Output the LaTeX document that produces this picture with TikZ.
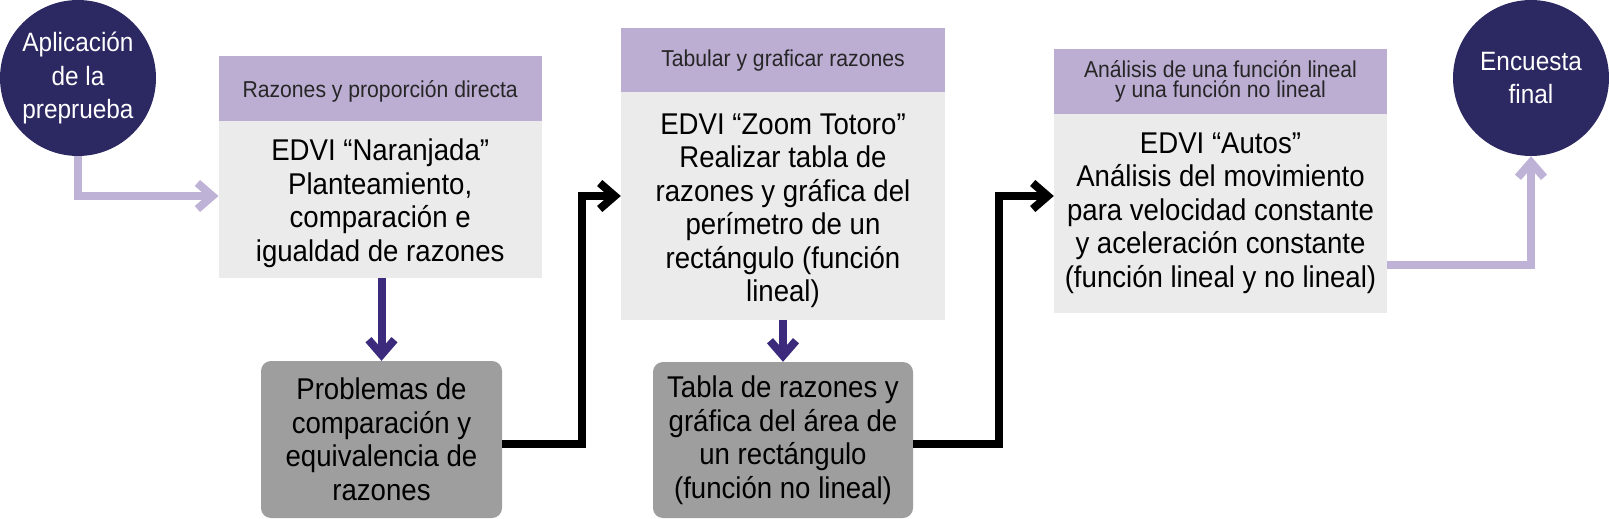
\documentclass[tikz,border=0pt]{standalone}
\usepackage{fontspec}
\setmainfont{Liberation Sans}[FakeStretch=0.92]
\usetikzlibrary{arrows.meta}
\definecolor{navy}{HTML}{2C2862}
\definecolor{hdrlav}{HTML}{BCADD3}
\definecolor{bodygray}{HTML}{EBEBEB}
\definecolor{boxgray}{HTML}{9E9E9E}
\definecolor{purarr}{HTML}{3C2B7C}
\definecolor{lavarr}{HTML}{BFB2D7}
\tikzset{
  hdr/.style={fill=hdrlav, inner sep=0pt},
  hdrtext/.style={inner sep=0pt, align=center, text=black!85,
    font=\fontsize{23}{20.5}\selectfont},
  bodybox/.style={fill=bodygray, inner sep=0pt},
  bodytext/.style={inner sep=0pt, align=center,
    font=\fontsize{30}{33.5}\selectfont},
  graybox/.style={fill=boxgray, rounded corners=10pt, inner sep=0pt, align=center,
    font=\fontsize{30}{33.5}\selectfont},
  circ/.style={circle, fill=navy, text=white, inner sep=0pt, minimum size=156pt,
    align=center, font=\fontsize{26.5}{33.3}\selectfont},
  tipbarb/.style={-{Straight Barb[length=15pt,width=26pt]}},
  lavline/.style={draw=lavarr, line width=8pt, tipbarb},
  purline/.style={draw=purarr, line width=8pt, tipbarb},
  blkline/.style={draw=black, line width=8pt, tipbarb},
}
\begin{document}
\begin{tikzpicture}[x=1pt,y=-1pt]
\useasboundingbox (0,0) rectangle (1609,519);
% circles
\node[circ] (start) at (78,78) {Aplicación\\de la\\preprueba};
\node[circ] (final) at (1531,78) {Encuesta\\final};
% box 1
\node[hdr, minimum width=323pt, minimum height=64.6pt] (h1) at (380.2,88.7) {};
\node[hdrtext] (h1t) at (380.2,91.7) {Razones y proporción directa};
\node[bodybox, minimum width=323pt, minimum height=157pt] (b1) at (380.2,199.5) {};
\node[bodytext] (b1t) at (380.2,203)
  {EDVI “Naranjada”\\Planteamiento,\\comparación e\\igualdad de razones};
% box 2
\node[hdr, minimum width=324pt, minimum height=64pt] (h2) at (783,60) {};
\node[hdrtext] (h2t) at (783,60.5) {Tabular y graficar razones};
\node[bodybox, minimum width=324pt, minimum height=228pt] (b2) at (783,206) {};
\node[bodytext] (b2t) at (783,211)
  {EDVI “Zoom Totoro”\\Realizar tabla de\\razones y gráfica del\\perímetro de un\\rectángulo (función\\lineal)};
% box 3
\node[hdr, minimum width=333pt, minimum height=65pt] (h3) at (1220.5,81.5) {};
\node[hdrtext] (h3t) at (1220.5,81.5)
  {Análisis de una función lineal\\y una función no lineal};
\node[bodybox, minimum width=333pt, minimum height=199pt] (b3) at (1220.5,213.5) {};
\node[bodytext] (b3t) at (1220.5,213)
  {EDVI “Autos”\\Análisis del movimiento\\para velocidad constante\\y aceleración constante\\(función lineal y no lineal)};
% gray boxes
\node[graybox, minimum width=241pt, minimum height=157pt] (g1) at (381.5,439.5)
  {Problemas de\\comparación y\\equivalencia de\\razones};
\node[graybox, minimum width=260pt, minimum height=156pt] (g2) at (783,440)
  {Tabla de razones y\\gráfica del área de\\un rectángulo\\(función no lineal)};
% connectors
\draw[lavline] (start.south) |- ([yshift=3.5pt]b1.west);
\draw[purline] (b1.south -| g1.north) -- (g1.north);
\draw[purline] (b2.south) -- (g2.north);
\draw[blkline] ([yshift=-4pt]g1.east) -- ++(80,0) |- ([yshift=10pt]b2.west);
\draw[blkline] ([yshift=-4pt]g2.east) -- ++(86,0) |- ([yshift=17.5pt]b3.west);
\draw[lavline] ([yshift=-51.5pt]b3.east) -| (final.south);
\end{tikzpicture}
\end{document}
